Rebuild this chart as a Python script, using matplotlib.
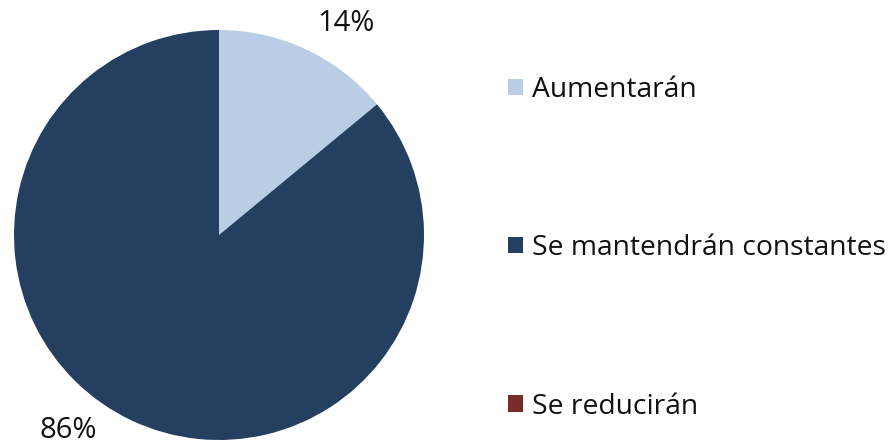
import matplotlib
matplotlib.use("Agg")
import matplotlib.pyplot as plt
from matplotlib.patches import Patch

categories = ["Aumentarán", "Se mantendrán constantes", "Se reducirán"]
values = [14, 86, 0]
pct_labels = ["14%", "86%", ""]
colors = ["#b9cde5", "#243f60", "#772c2a"]

plt.rcParams['font.family'] = ['Open Sans', 'DejaVu Sans']

fig = plt.figure(figsize=(8.89, 4.45), dpi=100)
W, H = 889, 445
cx, cy, r = 219, 235, 205
ax = fig.add_axes([(cx - r) / W, (H - cy - r) / H, 2 * r / W, 2 * r / H])
ax.pie(values, colors=colors, startangle=90, counterclock=False, radius=1,
       wedgeprops=dict(linewidth=0))
ax.set_xlim(-1, 1)
ax.set_ylim(-1, 1)
ax.set_aspect('equal')
ax.axis('off')

# percentage labels
label_pos = [(0.62, 1.03), (-0.735, -0.955)]
for lab, (x, y) in zip(pct_labels[:2], label_pos):
    ax.text(x, y, lab, ha='center', va='center', fontsize=21, color='#111111', clip_on=False)

handles = [Patch(facecolor=c, edgecolor='none') for c in colors]
leg = fig.legend(handles, categories, loc='upper left', bbox_to_anchor=(508 / W, 1 - 76 / H),
                 frameon=False, fontsize=20.3, handlelength=0.52, handleheight=0.52,
                 handletextpad=0.33, labelspacing=4.62, borderpad=0, borderaxespad=0,
                 labelcolor='#111111')

fig.savefig("out.png", dpi=100)
